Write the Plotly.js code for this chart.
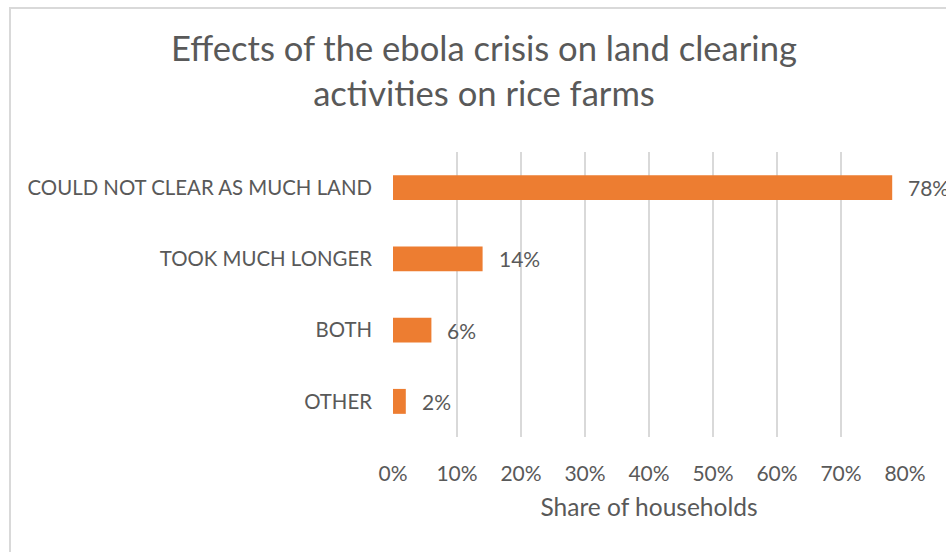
<!DOCTYPE html>
<html>
<head>
<meta charset="utf-8">
<script src="https://cdn.plot.ly/plotly-3.0.1.min.js"></script>
<style>
  html, body { margin: 0; padding: 0; background: #ffffff; overflow: hidden; }
  #frame { position: absolute; left: 9px; top: 7px; width: 1200px; height: 800px;
           border: 2px solid #d9d9d9; box-sizing: border-box; }
  #chart { position: absolute; left: 0; top: 0; width: 946px; height: 552px; }
</style>
</head>
<body>
<div id="frame"></div>
<div id="chart"></div>
<script>
// Effects reported by rice-farming households
const categories = ["COULD NOT CLEAR AS MUCH LAND", "TOOK MUCH LONGER", "BOTH", "OTHER"];
const shares = [0.78, 0.14, 0.06, 0.02];
const shareLabels = ["78%", "14%", "6%", "2%"];
const tickValues = [0, 0.1, 0.2, 0.3, 0.4, 0.5, 0.6, 0.7, 0.8];
const tickLabels = ["0%", "10%", "20%", "30%", "40%", "50%", "60%", "70%", "80%"];

const FONT = "Lato, 'Open Sans', sans-serif";
const GREY = "#595959";

const trace = {
  type: "bar",
  orientation: "h",
  x: shares,
  y: categories,
  marker: { color: "#ED7D31" },
  hoverinfo: "skip"
};

const labels = shares.map((v, i) => ({
  x: v, y: categories[i], xref: "x", yref: "y",
  text: shareLabels[i], showarrow: false,
  xanchor: "left", yanchor: "middle", xshift: 14,
  font: { family: FONT, size: 21, color: GREY }
}));

const layout = {
  width: 946, height: 552,
  margin: { l: 393, r: 41, t: 152, b: 115 },
  paper_bgcolor: "rgba(0,0,0,0)",
  plot_bgcolor: "rgba(0,0,0,0)",
  bargap: 0.65,
  showlegend: false,
  font: { family: FONT, color: GREY },
  title: {
    text: "Effects of the ebola crisis on land clearing<br>activities on rice farms",
    font: { family: FONT, size: 34.6, color: GREY },
    xref: "container", x: 484 / 946, xanchor: "center",
    yref: "container", y: 1 - 61 / 552, yanchor: "top"
  },
  xaxis: {
    range: [0, 0.8],
    tickvals: tickValues,
    ticktext: tickLabels,
    showgrid: true, gridcolor: "#d9d9d9", gridwidth: 1.5,
    zeroline: false, showline: false, ticks: "",
    ticklabelstandoff: 22,
    tickfont: { family: FONT, size: 21, color: GREY },
    title: { text: "Share of households", standoff: 14,
             font: { family: FONT, size: 24.5, color: GREY } },
    fixedrange: true
  },
  yaxis: {
    type: "category",
    categoryorder: "array",
    categoryarray: categories,
    autorange: "reversed",
    showgrid: false, zeroline: false, showline: false, ticks: "",
    ticklabelstandoff: 20,
    tickfont: { family: FONT, size: 20.4, color: GREY },
    fixedrange: true
  },
  annotations: labels
};

Plotly.newPlot("chart", [trace], layout, { displayModeBar: false, staticPlot: true });
</script>
</body>
</html>
